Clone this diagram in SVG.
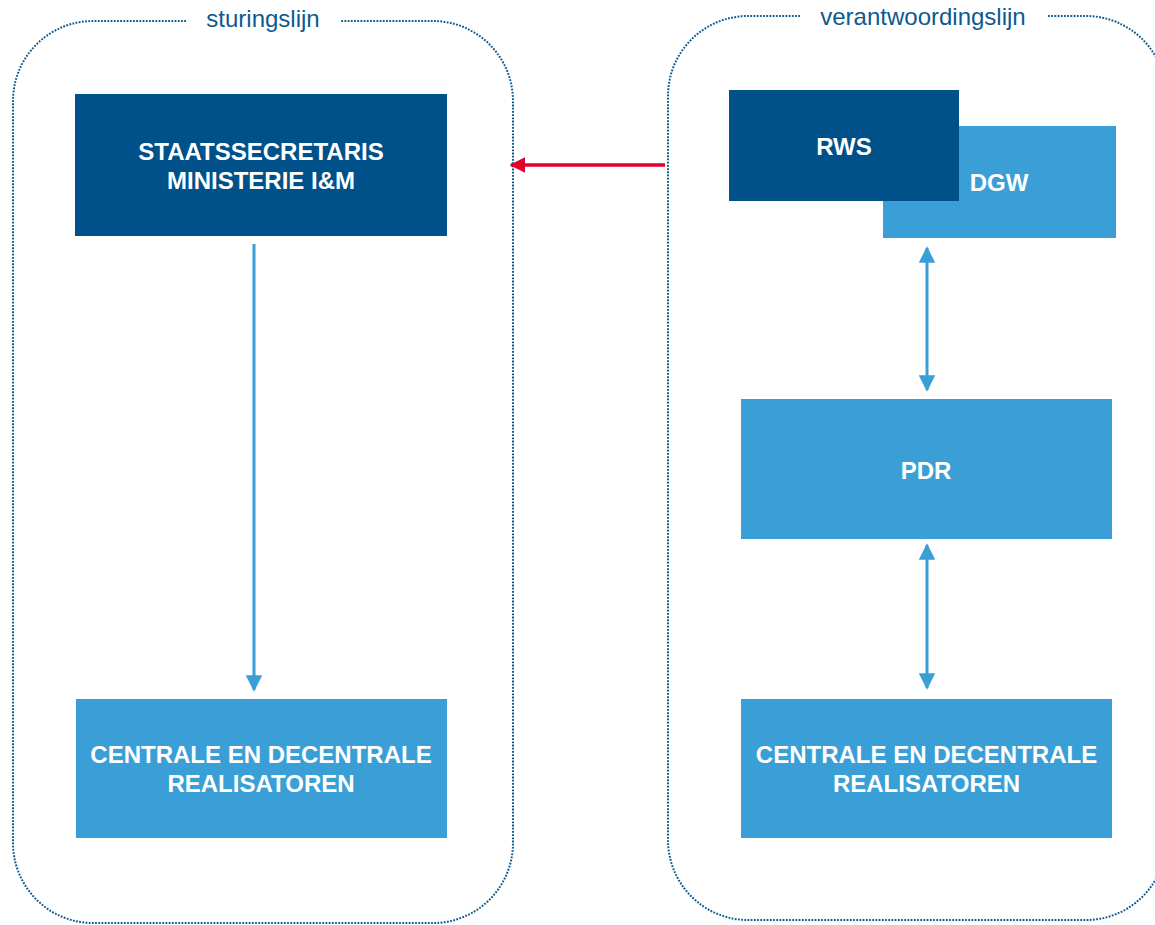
<svg xmlns="http://www.w3.org/2000/svg" width="1155" height="925" viewBox="0 0 1155 925">
  <style>
    .frame { fill: none; stroke: #0d5a90; stroke-width: 2; stroke-dasharray: 1.8 1.4; }
    .frame-label { font-family: "Liberation Sans", Arial, sans-serif; font-size: 24px; fill: #0d5a90; text-anchor: middle; }
    .dark { fill: #00518a; }
    .light { fill: #3a9fd7; }
    .node-text { font-family: "Liberation Sans", Arial, sans-serif; font-size: 24px; font-weight: bold; fill: #ffffff; text-anchor: middle; }
    .conn-blue { stroke: #3a9fd7; stroke-width: 3; fill: none; }
    .conn-red { stroke: #e2002a; stroke-width: 3.5; fill: none; }
  </style>
  <defs>
    <marker id="arrowBlue" viewBox="0 0 10 10" refX="9" refY="5" markerWidth="5.5" markerHeight="5.5" orient="auto-start-reverse" markerUnits="strokeWidth">
      <path d="M0,0 L10,5 L0,10 z" fill="#3a9fd7"/>
    </marker>
    <marker id="arrowRed" viewBox="0 0 10 10" refX="9" refY="5" markerWidth="4.5" markerHeight="4.5" orient="auto" markerUnits="strokeWidth">
      <path d="M0,0 L10,5 L0,10 z" fill="#e2002a"/>
    </marker>
  </defs>
  <rect width="1155" height="925" fill="#ffffff"/>

  <g id="frame-sturingslijn">
    <path class="frame" d="M186,21 L93,21 A80,80 0 0 0 13,101 L13,843 A80,80 0 0 0 93,923 L433,923 A80,80 0 0 0 513,843 L513,101 A80,80 0 0 0 433,21 L340,21"/>
    <text class="frame-label" x="263" y="27">sturingslijn</text>
  </g>

  <g id="frame-verantwoordingslijn">
    <path class="frame" d="M800,16 L748,16 A80,80 0 0 0 668,96 L668,840 A80,80 0 0 0 748,920 L1086,920 A80,80 0 0 0 1166,840 L1166,96 A80,80 0 0 0 1086,16 L1047,16"/>
    <text class="frame-label" x="923" y="25">verantwoordingslijn</text>
  </g>

  <g id="node-staatssecretaris">
    <rect class="dark" x="75" y="94" width="372" height="142"/>
    <text class="node-text" x="261" y="160">STAATSSECRETARIS</text>
    <text class="node-text" x="261" y="189">MINISTERIE I&amp;M</text>
  </g>

  <g id="node-realisatoren-left">
    <rect class="light" x="76" y="699" width="371" height="139"/>
    <text class="node-text" x="261" y="763">CENTRALE EN DECENTRALE</text>
    <text class="node-text" x="261" y="792">REALISATOREN</text>
  </g>

  <g id="node-dgw">
    <rect class="light" x="883" y="126" width="233" height="112"/>
    <text class="node-text" x="999" y="191">DGW</text>
  </g>

  <g id="node-rws">
    <rect class="dark" x="729" y="90" width="230" height="111"/>
    <text class="node-text" x="844" y="155">RWS</text>
  </g>

  <g id="node-pdr">
    <rect class="light" x="741" y="399" width="371" height="140"/>
    <text class="node-text" x="926" y="479">PDR</text>
  </g>

  <g id="node-realisatoren-right">
    <rect class="light" x="741" y="699" width="371" height="139"/>
    <text class="node-text" x="926.5" y="763">CENTRALE EN DECENTRALE</text>
    <text class="node-text" x="926.5" y="792">REALISATOREN</text>
  </g>

  <g id="connectors">
    <line class="conn-red" x1="665" y1="165" x2="511" y2="165" marker-end="url(#arrowRed)"/>
    <line class="conn-blue" x1="254" y1="244" x2="254" y2="690" marker-end="url(#arrowBlue)"/>
    <line class="conn-blue" x1="927" y1="248" x2="927" y2="390" marker-start="url(#arrowBlue)" marker-end="url(#arrowBlue)"/>
    <line class="conn-blue" x1="927" y1="545" x2="927" y2="688" marker-start="url(#arrowBlue)" marker-end="url(#arrowBlue)"/>
  </g>
</svg>
